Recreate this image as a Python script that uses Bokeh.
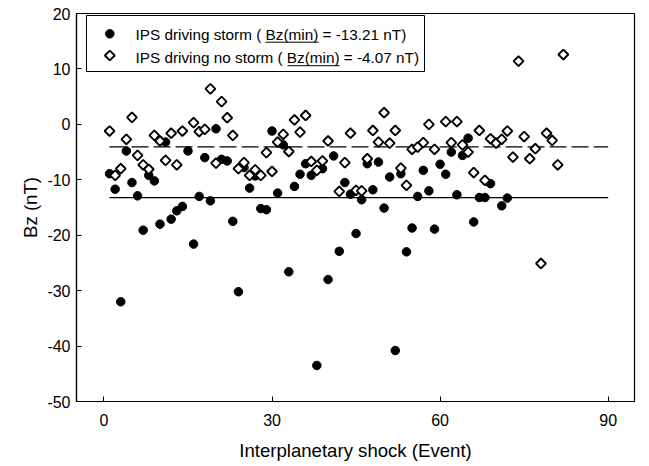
from bokeh.plotting import figure
from bokeh.models import Range1d, FixedTicker, Label, BoxAnnotation
from bokeh.embed import file_html
from bokeh.resources import INLINE

# ---------------- data ----------------
storm_event = [1, 2, 3, 4, 5, 6, 7, 8, 9, 10,
               11, 12, 13, 14, 15, 16, 17, 18, 19, 20,
               21, 22, 23, 24, 25, 26, 27, 28, 29, 30,
               31, 32, 33, 34, 35, 36, 37, 38, 39, 40,
               41, 42, 43, 44, 45, 46, 47, 48, 49, 50,
               51, 52, 53, 54, 55, 56, 57, 58, 59, 60,
               61, 62, 63, 64, 65, 66, 67, 68, 69, 71, 72]
storm_bz = [-8.9, -11.7, -32.0, -4.8, -10.5, -12.9, -19.1, -9.2, -10.2, -18.0,
            -3.2, -17.1, -15.6, -14.8, -4.8, -21.6, -13.0, -6.0, -13.8, -0.8,
            -6.3, -6.6, -17.5, -30.2, -7.8, -11.5, -9.3, -15.2, -15.4, -1.2,
            -12.4, -3.7, -26.6, -11.2, -9.0, -7.1, -9.2, -43.5, -8.0, -28.0,
            -5.7, -22.9, -10.5, -12.6, -19.7, -13.6, -7.1, -11.8, -6.8, -15.1,
            -9.5, -40.8, -8.9, -23.0, -18.7, -13.0, -8.3, -12.0, -18.9, -7.2,
            -9.0, -5.0, -12.7, -5.6, -2.5, -17.6, -13.2, -13.2, -10.7, -14.7, -13.3]

nostorm_event = [1, 2, 3, 4, 5, 6, 7, 8, 9, 10,
                 11, 12, 13, 14, 16, 17, 18, 19, 20,
                 21, 22, 23, 24, 25, 26, 27, 28, 29, 30,
                 31, 32, 33, 34, 35, 36, 37, 38, 39, 40,
                 42, 43, 44, 45, 46, 47, 48, 49, 50,
                 51, 52, 53, 54, 55, 56, 57, 58, 59,
                 61, 62, 63, 64, 65, 66, 67, 68, 69, 70,
                 71, 72, 73, 74, 75, 76, 77, 78, 79, 80,
                 81, 82]
nostorm_bz = [-1.2, -9.2, -8.0, -2.7, 1.25, -5.6, -7.3, -8.1, -2.0, -3.0,
              -6.5, -1.6, -7.3, -1.2, 0.3, -1.3, -0.9, 6.4, -7.0,
              4.1, 1.2, -2.0, -8.0, -6.9, -9.2, -8.2, -9.2, -5.1, -8.5,
              -3.2, -1.8, -4.9, 0.8, -1.4, 1.6, -6.7, -8.3, -6.6, -3.0,
              -12.1, -6.9, -1.6, -11.9, -12.0, -6.2, -1.1, -3.2, 2.1,
              -3.4, -1.1, -7.9, -11.0, -4.5, -4.1, -3.3, 0.0, -4.5,
              0.5, -3.3, 0.5, -3.7, -5.0, -8.7, -1.1, -10.1, -2.6, -3.4,
              -2.7, -1.2, -5.9, 11.4, -2.2, -6.2, -4.4, -25.1, -1.6, -2.9,
              -7.3, 12.6]

storm_min = -13.21
nostorm_min = -4.07
ref_line_x = [1, 90]

storm_label = "IPS driving storm ( Bz(min) = -13.21 nT)"
nostorm_label = "IPS driving no storm ( Bz(min) = -4.07 nT)"

x_ticks = [0, 30, 60, 90]
y_ticks = [20, 10, 0, -10, -20, -30, -40, -50]

# ---------------- layout ----------------
X0, X1 = -4.9, 94.7
Y0, Y1 = -50, 20
BL, BR, BT, BB = 76, 7, 13, 63
W, H = 641, 464
FW, FH = W - BL - BR, H - BT - BB


def dx(px):  # pixel (figure) -> data x
    return X0 + (px - BL) * (X1 - X0) / FW


def dy(py):  # pixel (figure) -> data y
    return Y1 - (py - BT) * (Y1 - Y0) / FH


FONT = "Liberation Sans"

p = figure(width=W, height=H, x_range=Range1d(X0, X1), y_range=Range1d(Y0, Y1),
           output_backend="svg", toolbar_location=None, title=None,
           min_border_left=BL, min_border_right=BR, min_border_top=BT, min_border_bottom=BB)
p.background_fill_color = "white"
p.border_fill_color = "white"
p.outline_line_color = "black"
p.outline_line_width = 1.2
p.xgrid.visible = False
p.ygrid.visible = False

p.xaxis.ticker = FixedTicker(ticks=x_ticks)
p.yaxis.ticker = FixedTicker(ticks=y_ticks)
p.xaxis.major_label_overrides = {t: str(t) for t in x_ticks}
p.yaxis.major_label_overrides = {t: str(t) for t in y_ticks}
for ax in (p.xaxis[0], p.yaxis[0]):
    ax.major_tick_in = 5
    ax.major_tick_out = 0
    ax.minor_tick_in = 0
    ax.minor_tick_out = 0
    ax.axis_line_color = "black"
    ax.axis_line_width = 1.2
    ax.major_tick_line_color = "black"
    ax.major_label_text_font = FONT
    ax.major_label_text_font_size = "16px"
    ax.major_label_text_color = "black"
    ax.axis_label_text_font = FONT
    ax.axis_label_text_font_size = "18.6px"
    ax.axis_label_text_font_style = "normal"
    ax.axis_label_text_color = "black"

p.xaxis.axis_label = "Interplanetary shock (Event)"
p.yaxis.axis_label = "Bz (nT)"
p.xaxis.major_label_standoff = 12
p.yaxis.major_label_standoff = 6
p.xaxis.axis_label_standoff = 11
p.yaxis.axis_label_standoff = 3

# reference lines
p.segment(x0=[ref_line_x[0]], y0=[storm_min], x1=[ref_line_x[1]], y1=[storm_min],
          line_color="black", line_width=1.3)
p.segment(x0=[ref_line_x[0]], y0=[nostorm_min], x1=[ref_line_x[1]], y1=[nostorm_min],
          line_color="black", line_width=1.3, line_dash="17 5")

# data
p.scatter(x=storm_event, y=storm_bz, marker="circle", size=8.5,
          fill_color="black", line_color="black")
p.scatter(x=nostorm_event, y=nostorm_bz, marker="square", angle=0.785398, size=7,
          fill_color="white", line_color="black", line_width=1.9)

# legend (custom, to allow underlined text)
box = BoxAnnotation(left=dx(86), right=dx(424), top=dy(15), bottom=dy(71),
                    fill_color="white", fill_alpha=1.0, line_color="black",
                    line_width=1, line_alpha=1.0)
p.add_layout(box)
p.scatter(x=[dx(109.3)], y=[dy(33.3)], marker="circle", size=8.5,
          fill_color="black", line_color="black", level="overlay")
p.scatter(x=[dx(109.3)], y=[dy(55)], marker="square", angle=0.785398, size=7,
          fill_color="white", line_color="black", line_width=1.9, level="overlay")
for txt, py in ((storm_label, 33.5), (nostorm_label, 57.0)):
    p.add_layout(Label(x=dx(135), y=dy(py), text=txt, text_font=FONT,
                       text_font_size="15.3px", text_color="black",
                       text_baseline="middle", text_align="left"))
p.segment(x0=[dx(265), dx(287)], y0=[dy(41.7), dy(65.2)],
          x1=[dx(318), dx(339)], y1=[dy(41.7), dy(65.2)],
          line_color="black", line_width=1, level="overlay")

open("out.html", "w").write(file_html(p, INLINE))
